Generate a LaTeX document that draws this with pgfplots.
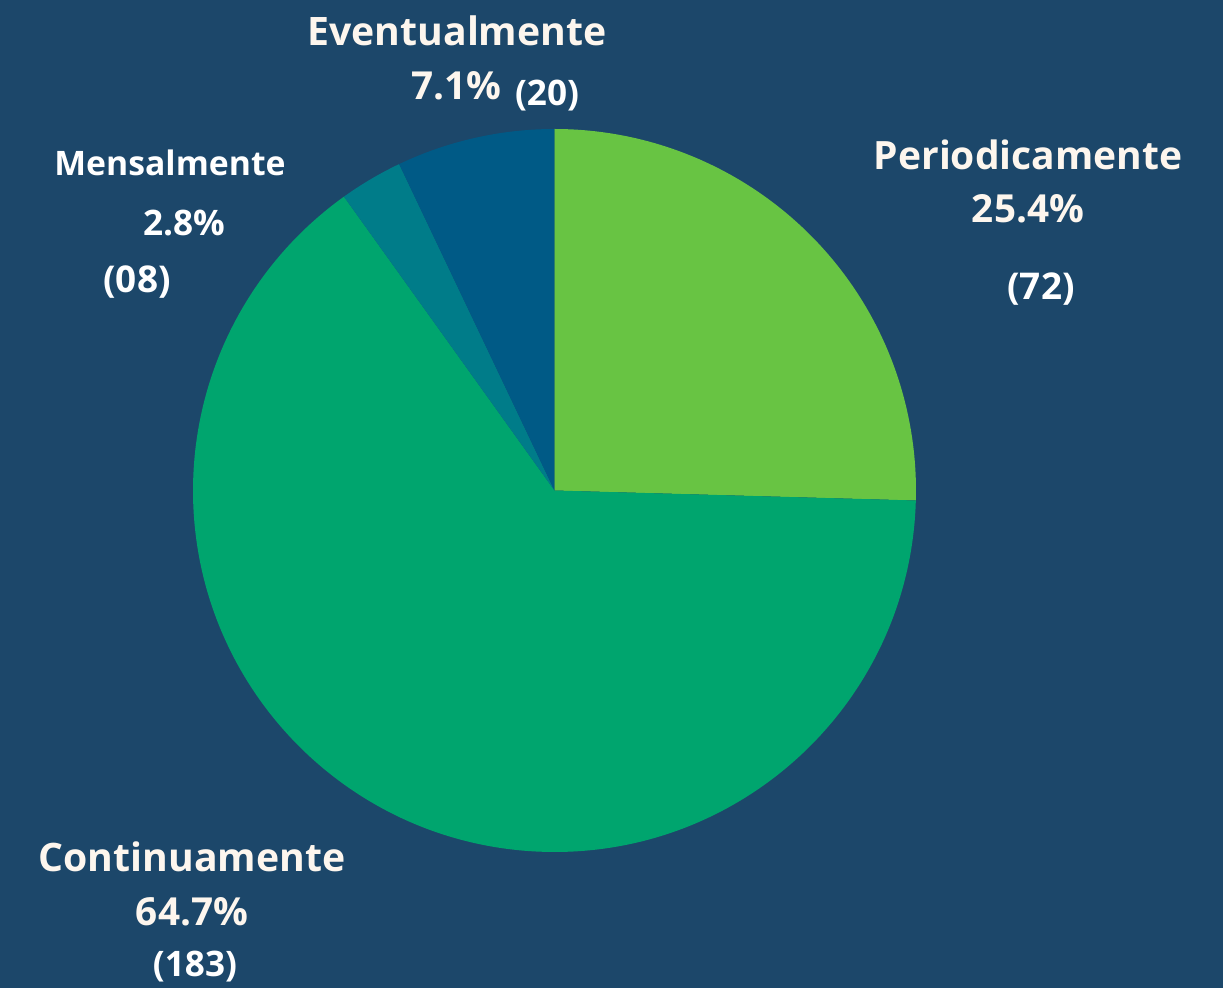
\documentclass[border=0pt]{standalone}
\usepackage{pgfplots}
\pgfplotsset{compat=1.18}
\usepackage{fontspec}
\setmainfont{Open Sans}
\definecolor{bg}{HTML}{1C476A}
\definecolor{cA}{HTML}{68C443}
\definecolor{cB}{HTML}{00A56E}
\definecolor{cC}{HTML}{007C89}
\definecolor{cD}{HTML}{005A86}
\definecolor{txt}{HTML}{FDF6EE}
\newcommand{\fs}[1]{\fontsize{#1}{#1}\selectfont\bfseries}
\begin{document}
\begin{tikzpicture}
\pgfmathsetmacro{\tot}{72+183+8+20}
\pgfmathsetmacro{\aA}{90-72/\tot*360}
\pgfmathsetmacro{\aB}{\aA-183/\tot*360}
\pgfmathsetmacro{\aC}{\aB-8/\tot*360}
\pgfmathsetmacro{\aD}{\aC-20/\tot*360}
\def\R{3.615cm}
\begin{axis}[xmin=0,xmax=1223,ymin=0,ymax=988,width=12.23cm,height=9.88cm,
  scale only axis,hide axis,clip=false]
\fill[bg] (axis cs:0,0) rectangle (axis cs:1223,988);
\fill[cA] (axis cs:554.5,497.5) -- ++(90:\R) arc[start angle=90,end angle=\aA,radius=\R] -- cycle;
\fill[cB] (axis cs:554.5,497.5) -- ++(\aA:\R) arc[start angle=\aA,end angle=\aB,radius=\R] -- cycle;
\fill[cC] (axis cs:554.5,497.5) -- ++(\aB:\R) arc[start angle=\aB,end angle=\aC,radius=\R] -- cycle;
\fill[cD] (axis cs:554.5,497.5) -- ++(\aC:\R) arc[start angle=\aC,end angle=\aD,radius=\R] -- cycle;
% labels
\node[txt,font=\fs{11.15pt}] at (axis cs:457,957) {Eventualmente};
\node[txt,font=\fs{11pt}] at (axis cs:456,902) {7.1\%};
\node[white,font=\fs{10pt}] at (axis cs:547,892) {(20)};
\node[txt,font=\fs{11.1pt}] at (axis cs:1028,833) {Periodicamente};
\node[txt,font=\fs{11pt}] at (axis cs:1028,779) {25.4\%};
\node[white,font=\fs{10.5pt}] at (axis cs:1041,699) {(72)};
\node[white,font=\fs{9.6pt}] at (axis cs:170,825) {Mensalmente};
\node[white,font=\fs{10pt}] at (axis cs:184,765) {2.8\%};
\node[white,font=\fs{10.5pt}] at (axis cs:137,706) {(08)};
\node[txt,font=\fs{11.15pt}] at (axis cs:192,131) {Continuamente};
\node[txt,font=\fs{11pt}] at (axis cs:192,76) {64.7\%};
\node[white,font=\fs{10pt}] at (axis cs:195,21) {(183)};
\end{axis}
\end{tikzpicture}
\end{document}
